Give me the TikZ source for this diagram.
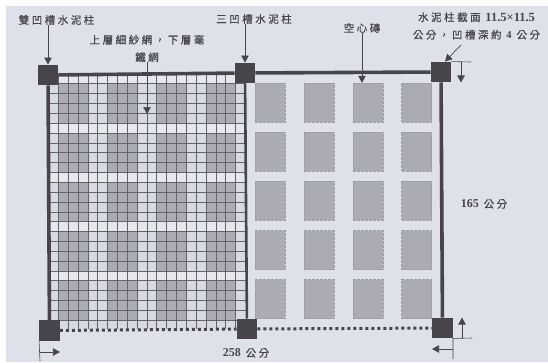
\documentclass[tikz,border=0pt]{standalone}
\usepackage{fontspec}
\usetikzlibrary{arrows.meta}
\setmainfont{Liberation Serif}
\newfontfamily\cjk[LetterSpace=24,FakeBold=0.6]{Noto Sans CJK TC}
\definecolor{paper}{HTML}{DEE1E9}
\definecolor{ink}{HTML}{47454B}
\definecolor{meshline}{HTML}{63636C}
\definecolor{patch}{HTML}{ABABB5}
\definecolor{cellgap}{HTML}{D8DAE1}
\definecolor{cellband}{HTML}{E7E8ED}
\tikzset{
  post/.style={fill=ink,minimum size=20.5pt,inner sep=0pt},
  brick/.style={fill=patch,draw=patch!92!black,dash pattern=on 3pt off 1pt,line width=.4pt,minimum width=30pt,minimum height=39pt,inner sep=0pt},
  wall/.style={draw=ink,line width=3.6pt},
  dots/.style={draw=ink,line width=3pt,dash pattern=on 3pt off 3pt},
  lab/.style={text=ink,align=center,inner sep=0pt,font=\cjk\fontsize{10.5}{17.5}\selectfont},
  pointer/.style={draw=ink,line width=.7pt,-{Triangle[length=7pt,width=7.5pt]}},
  extline/.style={draw=ink,line width=.6pt}
}
\begin{document}
\begin{tikzpicture}[x=1pt,y=-1pt]
    \useasboundingbox (0,0) rectangle (548,362);
    \fill[paper] (6,6) rectangle (548,362);
    % mesh cells
    \fill[cellgap] (48.5,74) rectangle (245.5,329);
    \foreach \r in {0,5,10,15,20} \fill[cellband] (48.5,74+9.85*\r) rectangle (245.5,83.85+9.85*\r);
    \foreach \c in {1,6,11,16}
      \foreach \r in {1,6,11,16,21}
        \fill[patch] (48.5+9.85*\c,74+9.85*\r) rectangle (78.05+9.85*\c,113.4+9.85*\r);
    \foreach \c in {1,...,19} \draw[meshline,line width=.8pt] (48.5+9.85*\c,74) -- (48.5+9.85*\c,329);
    \foreach \r in {1,...,25} \draw[meshline,line width=.8pt] (48.5,74+9.85*\r) -- (245.5,74+9.85*\r);
    % hollow bricks
    \foreach \c/\x in {1/270,2/319,3/368,4/416.5}
      \foreach \r/\y in {1/102.5,2/151.5,3/200.5,4/250,5/299}
        \node[brick] (brick\c\r) at (\x,\y) {};
    % posts
    \foreach \name/\x/\y in {postTL/48/75,postTM/245/73,postTR/441/72,postBL/49.5/330.5,postBM/247/329,postBR/442.5/328}
      \node[post] (\name) at (\x,\y) {};
    \draw[wall] (postTL) -- (postTM);
    \draw[wall] (postTM) -- (postTR);
    \draw[wall] (postTL) -- (postBL);
    \draw[wall,line width=2.6pt] (postTM) -- (postBM);
    \draw[wall] (postTR) -- (postBR);
    \draw[dots] (postBL) -- (postBM);
    \draw[dots] (postBM) -- (postBR);
    % labels
    \node[lab] (labDouble) at (56.5,20) {雙凹槽水泥柱};
    \node[lab] (labTriple) at (254,19) {三凹槽水泥柱};
    \node[lab] (labMesh) at (147,48.5) {上層細紗網，下層毫\\鐵網};
    \node[lab] (labBrick) at (362,28) {空心磚};
    \node[lab] (labSection) at (476.5,26) {水泥柱截面 {\rmfamily\bfseries\fontsize{12.5}{12.5}\selectfont 11.5×11.5}\\公分，凹槽深約 {\rmfamily\bfseries 4} 公分};
    \node[lab] (labHeight) at (484,204) {{\rmfamily\bfseries\fontsize{12}{12}\selectfont 165} 公分};
    \node[lab] (labWidth) at (246,353) {{\rmfamily\bfseries\fontsize{12}{12}\selectfont 258} 公分};
    % arrows
    \coordinate (meshTip) at (147,114);
    \draw[pointer] (labMesh.south -| meshTip) -- (meshTip);
    \draw[pointer] (labDouble.south -| postTL) -- (postTL.north);
    \draw[pointer] (labTriple.south -| postTM) -- (postTM.north);
    \draw[pointer] (labBrick.south) -- (brick31.north -| labBrick);
    \coordinate (secStart) at (461,45);
    \draw[pointer] (secStart) -- ([xshift=4pt]postTR.north);
    % size marks
    \coordinate (trEnd) at (471,62);
    \coordinate (brEnd) at (472,338);
    \coordinate (brLow) at (453,359);
    \coordinate (blLow) at (40,361);
    \draw[extline] (postTR.north east) -- (trEnd);
    \draw[extline] (postBR.south east) -- (brEnd);
    \draw[extline] (postBR.south east) -- (brLow);
    \draw[extline] (postBL.south west) -- (blLow);
    \draw[pointer] (461,62) -- (postTR.south east -| 461,0);
    \draw[pointer] (462,338) -- (postBR.north east -| 462,0);
    \draw[pointer] (453,349) -- (postBR.west |- 0,349);
    \draw[pointer] (40,352) -- (postBL.east |- 0,352);
\end{tikzpicture}
\end{document}
